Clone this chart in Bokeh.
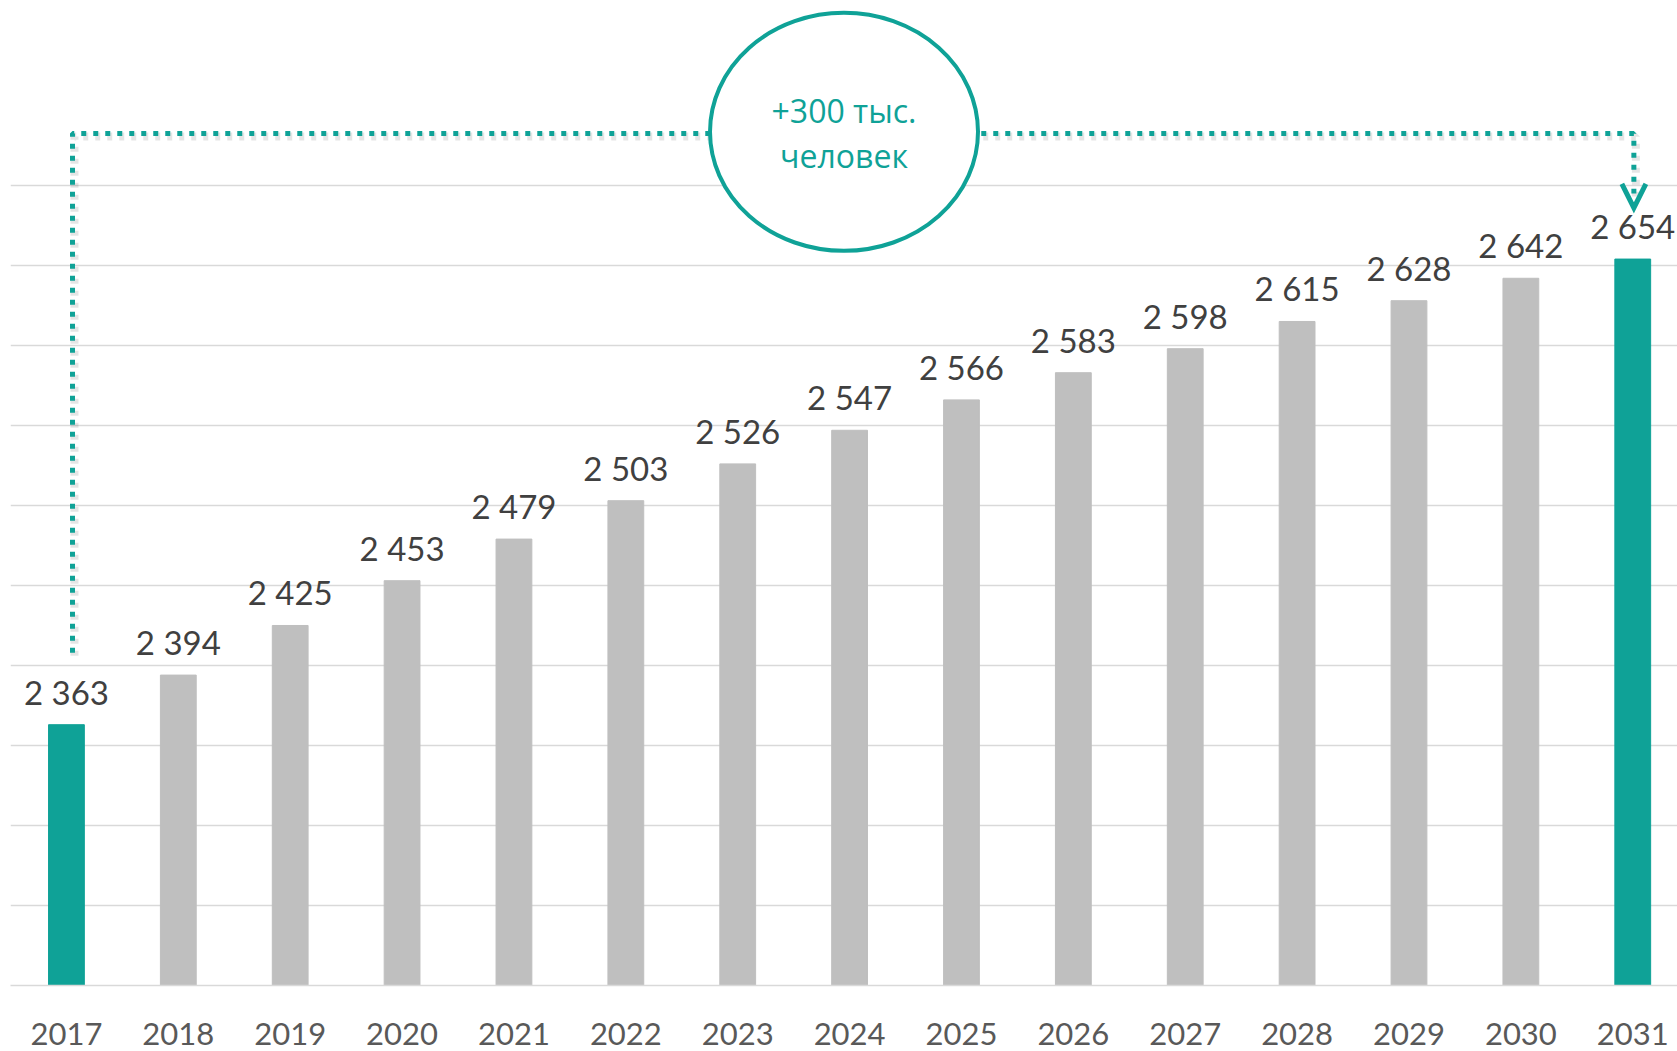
from bokeh.plotting import figure
from bokeh.models import FixedTicker, Range1d, ColumnDataSource
from bokeh.core.properties import value
from bokeh.embed import file_html
from bokeh.resources import INLINE

# ---- data ----
years = [2017, 2018, 2019, 2020, 2021, 2022, 2023, 2024, 2025, 2026, 2027, 2028, 2029, 2030, 2031]
values = [2363, 2394, 2425, 2453, 2479, 2503, 2526, 2547, 2566, 2583, 2598, 2615, 2628, 2642, 2654]
value_labels = ["2 363", "2 394", "2 425", "2 453", "2 479", "2 503", "2 526", "2 547",
                "2 566", "2 583", "2 598", "2 615", "2 628", "2 642", "2 654"]
grid_ticks = [2200, 2250, 2300, 2350, 2400, 2450, 2500, 2550, 2600, 2650, 2700]
annotation_lines = ["+300 тыс.", "человек"]

TEAL = "#0FA297"
GRAY = "#BFBFBF"
FONT = "Lato"
ANN_FONT = "Open Sans"

y_min = grid_ticks[0]
idx = list(range(len(years)))
colors = [TEAL if i in (0, len(years) - 1) else GRAY for i in idx]

src = ColumnDataSource(dict(x=idx, top=values, label=value_labels, color=colors))

p = figure(frame_width=1667, frame_height=985,
           x_range=Range1d(-0.5, 14.4), y_range=Range1d(y_min, 2815.6),
           output_backend="svg", toolbar_location=None,
           min_border_left=10, min_border_right=0, min_border_top=0, min_border_bottom=0)
p.outline_line_color = None
p.background_fill_color = "white"
p.border_fill_color = "white"

# grid
p.xgrid.visible = False
p.ygrid.ticker = FixedTicker(ticks=grid_ticks)
p.ygrid.grid_line_color = "#D9D9D9"
p.ygrid.grid_line_width = 1.5
p.yaxis.visible = False

# x axis
p.xaxis.ticker = FixedTicker(ticks=idx)
p.xaxis.major_label_overrides = {i: str(y) for i, y in zip(idx, years)}
p.xaxis.axis_line_color = "#D9D9D9"
p.xaxis.axis_line_width = 1.5
p.xaxis.major_tick_line_color = None
p.xaxis.minor_tick_line_color = None
p.xaxis.major_label_text_font = FONT
p.xaxis.major_label_text_font_size = "31px"
p.xaxis.major_label_text_color = "#595959"
p.xaxis.major_label_standoff = 31

# bars
p.vbar(x="x", top="top", bottom=y_min, width=0.32, color="color", source=src)

# value labels
p.text(x="x", y="top", text="label", source=src, y_offset=-33,
       text_align="center", text_baseline="alphabetic",
       text_font=value(FONT), text_font_size="33px", text_color="#404040")

# connector (dotted) from first bar to last bar
first, last = idx[0], idx[-1]
x_left = first + 0.054
x_right = last + 0.01
y_top = 2732.5
y_left_bottom = values[0] + 45
y_right_end = values[-1] + 41
px_x = 1 / 111.9   # one screen pixel in x data units
px_y = 1 / 1.6     # one screen pixel in y data units

# soft shadow under the dotted path
p.line(x=[x_left + 2 * px_x, x_left + 2 * px_x, x_right + 2 * px_x, x_right + 2 * px_x],
       y=[y_left_bottom - 3 * px_y, y_top - 3 * px_y, y_top - 3 * px_y, y_right_end - 3 * px_y],
       line_color="black", line_alpha=0.10, line_width=8, line_dash="5 7", line_cap="butt")
p.line(x=[x_left, x_left, x_right, x_right],
       y=[y_left_bottom, y_top, y_top, y_right_end],
       line_color=TEAL, line_width=5, line_dash="5 7", line_cap="butt")

# arrow head (chevron)
dx = 12 * px_x
p.line(x=[x_right - dx, x_right, x_right + dx],
       y=[values[-1] + 47, values[-1] + 32, values[-1] + 47],
       line_color=TEAL, line_width=5, line_join="miter")

# ellipse callout
cx = (first + last) / 2 - 0.05
p.ellipse(x=[cx], y=[y_top + 1], width=[268], height=[238],
          width_units="screen", height_units="screen",
          fill_color="white", line_color=TEAL, line_width=4)
p.text(x=[cx, cx], y=[y_top + 1, y_top + 1], text=annotation_lines,
       y_offset=[-21, 24], text_align="center", text_baseline="alphabetic",
       text_font=value(ANN_FONT), text_font_size="32px", text_color=TEAL)

open("out.html", "w").write(file_html(p, INLINE))
